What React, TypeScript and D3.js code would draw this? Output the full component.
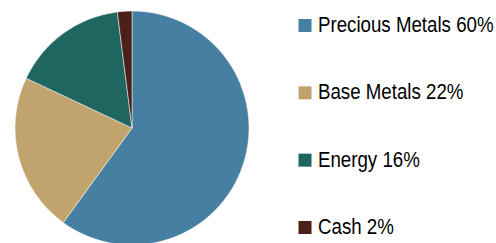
import React from "react";
import * as d3 from "d3";

const categories = ["Precious Metals", "Base Metals", "Energy", "Cash"];
const values = [60, 22, 16, 2];
const colors = ["#467fa1", "#c1a46d", "#1f6560", "#4a2018"];

export default function App() {
  const W = 496, H = 243;
  const cx = 132, cy = 128, r = 117;
  const pie = d3.pie<number>().sort(null).value((d) => d)(values);
  const arc = d3.arc<d3.PieArcDatum<number>>().innerRadius(0).outerRadius(r);
  const legendY = d3.scalePoint<string>().domain(categories).range([32, 234]);
  return (
    <svg width={W} height={H} style={{ position: "absolute", left: 0, top: 0 }}>
      <rect width={W} height={H} fill="#ffffff" />
      <g transform={`translate(${cx},${cy})`}>
        {pie.map((p, i) => (
          <path key={i} d={arc(p) || ""} fill={colors[i]} stroke="#ffffff" strokeWidth={0.5} />
        ))}
      </g>
      {categories.map((c, i) => {
        const y = legendY(c)!;
        return (
          <g key={c}>
            <rect x={298.5} y={y - 13} width={13} height={13} fill={colors[i]} />
            <text
              transform={`translate(318,${y}) scale(0.85,1)`}
              fontFamily="Liberation Sans, Arial, sans-serif"
              fontSize={22}
              fill="#000"
            >
              {`${c} ${values[i]}%`}
            </text>
          </g>
        );
      })}
    </svg>
  );
}
